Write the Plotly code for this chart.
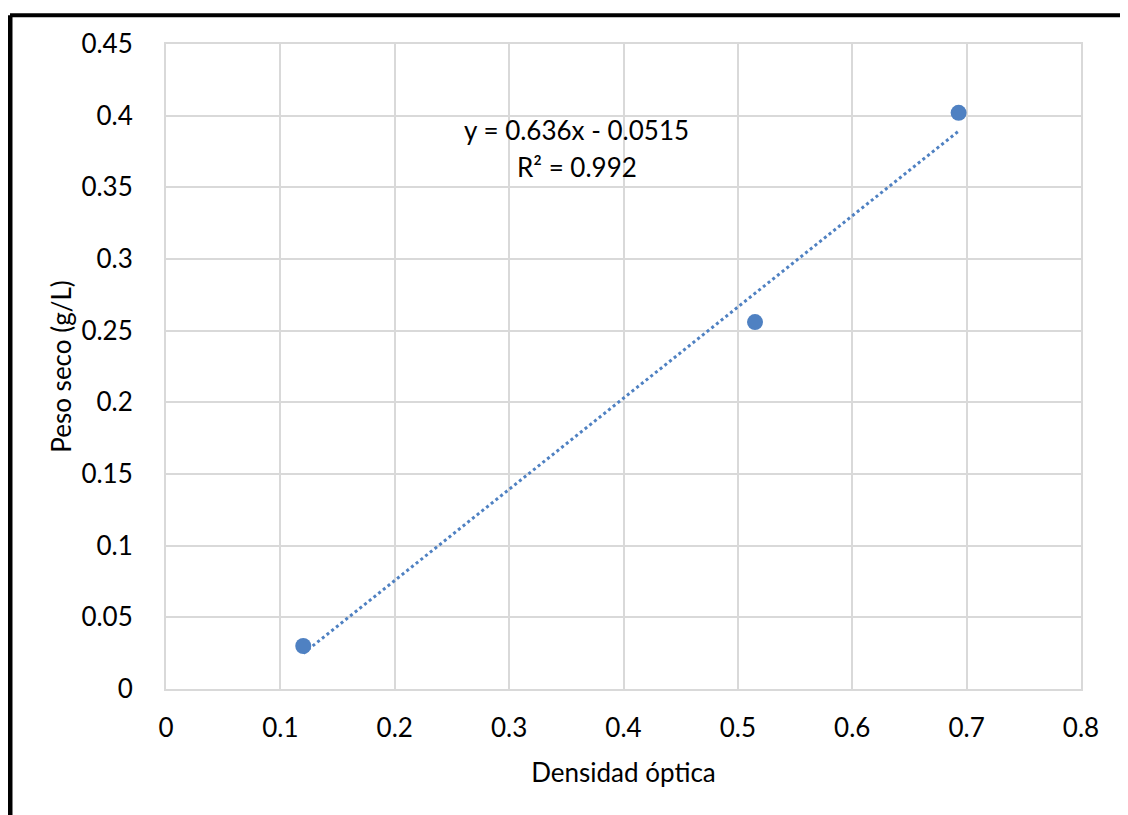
import numpy as np
import plotly.graph_objects as go

# datos
densidad = [0.12, 0.515, 0.693]
peso_seco = [0.030, 0.256, 0.402]

# linea de tendencia (de la etiqueta)
pendiente = 0.636
intercepto = -0.0515
r2 = 0.992

x_ticks = [0, 0.1, 0.2, 0.3, 0.4, 0.5, 0.6, 0.7, 0.8]
y_ticks = [0, 0.05, 0.1, 0.15, 0.2, 0.25, 0.3, 0.35, 0.4, 0.45]

azul = "#4f81c2"
gris = "#d9d9d9"
fuente = "Lato"

xt = np.array([min(densidad), max(densidad)])
yt = pendiente * xt + intercepto

fig = go.Figure()
fig.add_trace(go.Scatter(
    x=xt, y=yt, mode="lines",
    line=dict(color=azul, width=3, dash="dot"),
    hoverinfo="skip", showlegend=False,
))
fig.add_trace(go.Scatter(
    x=densidad, y=peso_seco, mode="markers",
    marker=dict(color=azul, size=16),
    showlegend=False,
))

fig.add_annotation(x=0.3593, y=0.3901, xref="x", yref="y",
                   text=f"y = {pendiente}x - {abs(intercepto)}", showarrow=False,
                   font=dict(family=fuente, size=26, color="#000"))
fig.add_annotation(x=0.3593, y=0.3643, xref="x", yref="y",
                   text=f"R² = {r2}", showarrow=False,
                   font=dict(family=fuente, size=26, color="#000"))

# marco negro alrededor del grafico
fig.add_shape(type="line", xref="paper", yref="paper",
              x0=-0.1705, x1=-0.1705, y0=-0.3, y1=1.0445,
              line=dict(color="black", width=5))
fig.add_shape(type="line", xref="paper", yref="paper",
              x0=-0.1705, x1=1.0486, y0=1.0445, y1=1.0445,
              line=dict(color="black", width=4))
fig.add_shape(type="line", xref="paper", yref="paper",
              x0=1.0486, x1=1.0486, y0=-0.3, y1=1.0445,
              line=dict(color="black", width=2.5))

# la pagina tiene 8px de margen, por eso 1120x807
fig.update_layout(
    width=1120, height=807,
    margin=dict(l=158, r=47, t=36, b=126),
    plot_bgcolor="white", paper_bgcolor="white",
    font=dict(family=fuente, size=26, color="#000"),
    xaxis=dict(
        range=[0, 0.8], tickvals=x_ticks, ticktext=[f"{v:g}" for v in x_ticks],
        showgrid=True, gridcolor=gris, gridwidth=2,
        showline=True, linecolor=gris, linewidth=2, mirror=True,
        zeroline=False, ticks="", ticklabelstandoff=15,
        tickfont=dict(size=26),
        title=dict(text="Densidad óptica", font=dict(size=26), standoff=22),
    ),
    yaxis=dict(
        range=[0, 0.45], tickvals=y_ticks, ticktext=[f"{v:g}" for v in y_ticks],
        showgrid=True, gridcolor=gris, gridwidth=2,
        showline=True, linecolor=gris, linewidth=2, mirror=True,
        zeroline=False, ticks="", ticklabelstandoff=26,
        tickfont=dict(size=26),
        title=dict(text="Peso seco (g/L)", font=dict(size=26), standoff=2),
    ),
)

fig.write_html("out.html")
